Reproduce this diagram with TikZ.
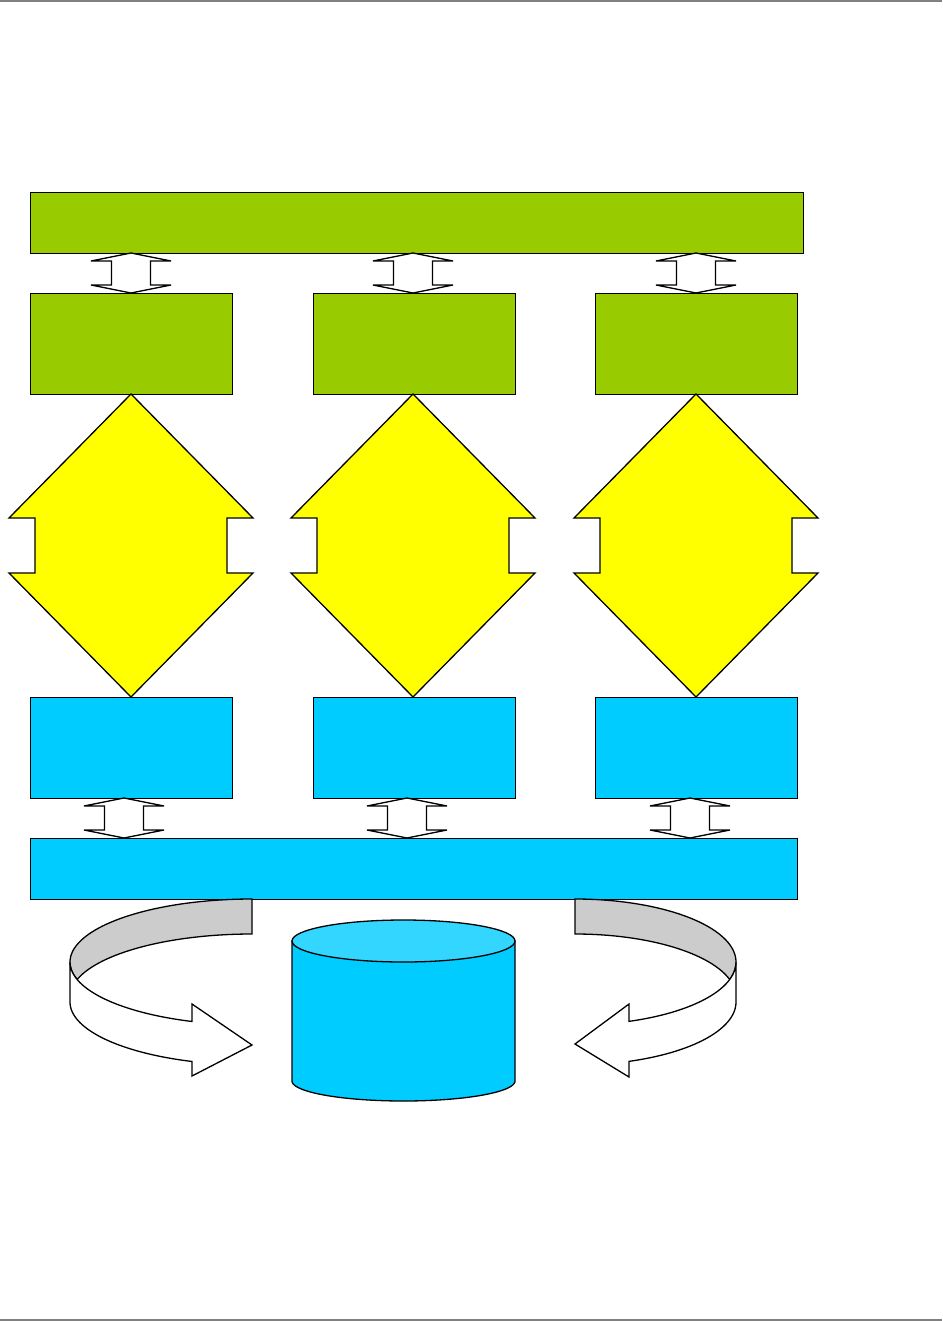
\documentclass[tikz,border=0pt]{standalone}
\definecolor{grn}{HTML}{99CC00}
\definecolor{ylw}{HTML}{FFFF00}
\definecolor{blu}{HTML}{00CCFF}
\definecolor{blutop}{HTML}{33D6FF}
\definecolor{bandgray}{HTML}{CCCCCC}
\definecolor{rulegray}{HTML}{808080}
\newcommand\smalldblarr[3]{%
  \filldraw[outl,fill=white] (#1,#2) -- (#1+40,#2+8) -- (#1+19.5,#2+8) -- (#1+19.5,#3-8) -- (#1+40,#3-8) -- (#1,#3)
   -- (#1-40,#3-8) -- (#1-19.5,#3-8) -- (#1-19.5,#2+8) -- (#1-40,#2+8) -- cycle;}
\newcommand\bigdblarr[1]{%
  \filldraw[outl,fill=ylw] (#1,394) -- (#1+122,518) -- (#1+96,518) -- (#1+96,573) -- (#1+122,573) -- (#1,697)
   -- (#1-122,573) -- (#1-96,573) -- (#1-96,518) -- (#1-122,518) -- cycle;}
\begin{document}
\begin{tikzpicture}[x=1pt,y=-1pt,
  outl/.style={draw=black,line width=1.3pt,line join=miter},
  boxbase/.style={outl,rectangle,anchor=north west,inner sep=0pt},
  gbox/.style={boxbase,fill=grn,minimum width=202pt,minimum height=101pt},
  bbox/.style={boxbase,fill=blu,minimum width=202pt,minimum height=101pt},
  gbar/.style={boxbase,fill=grn,minimum width=773pt,minimum height=61pt},
  bbar/.style={boxbase,fill=blu,minimum width=767pt,minimum height=61pt}]
\useasboundingbox (0,0) rectangle (942,1321);
\draw[rulegray,line width=2pt] (0,1) -- (942,1);
\draw[rulegray,line width=2pt] (0,1320) -- (942,1320);
% boxes
\node[gbar] (topbar) at (30,192) {};
\node[gbox] (g1) at (30,293) {};
\node[gbox] (g2) at (313,293) {};
\node[gbox] (g3) at (595,293) {};
\node[bbox] (b1) at (30,697) {};
\node[bbox] (b2) at (313,697) {};
\node[bbox] (b3) at (595,697) {};
\node[bbar] (botbar) at (30,838) {};
% small double arrows
\smalldblarr{131}{253}{293}
\smalldblarr{413}{253}{293}
\smalldblarr{696}{253}{293}
\smalldblarr{124}{798}{838}
\smalldblarr{407}{798}{838}
\smalldblarr{690}{798}{838}
% big yellow double arrows
\bigdblarr{131}
\bigdblarr{413}
\bigdblarr{696}
% cylinder
\filldraw[outl,fill=blu] (292,941) -- (292,1081)
  -- plot[domain=180:0,samples=60] ({403.5+111.5*cos(\x)},{1081+20*sin(\x)})
  -- (515,941) -- cycle;
\filldraw[outl,fill=blutop] (403.5,941) ellipse (111.5pt and 21pt);
% left circular arrow
\filldraw[outl,fill=bandgray] (252,899)
  -- plot[domain=270:164,samples=60] ({252+182*cos(\x)},{962+63*sin(\x)})
  -- plot[domain=196:270,samples=60] ({252+182*cos(\x)},{997+63*sin(\x)})
  -- cycle;
\filldraw[outl,fill=white] (70,962)
  -- plot[domain=180:109.25,samples=60] ({252+182*cos(\x)},{962+63*sin(\x)})
  -- (192,1004) -- (252,1045) -- (192,1076)
  -- plot[domain=109.25:180,samples=60] ({252+182*cos(\x)},{1002+63*sin(\x)})
  -- cycle;
% right circular arrow
\filldraw[outl,fill=bandgray] (575,899)
  -- plot[domain=270:376.1,samples=60] ({575+161*cos(\x)},{962+63*sin(\x)})
  -- plot[domain=343.9:270,samples=60] ({575+161*cos(\x)},{997+63*sin(\x)})
  -- cycle;
\filldraw[outl,fill=white] (736,962)
  -- plot[domain=0:70.4,samples=60] ({575+161*cos(\x)},{962+63*sin(\x)})
  -- (629,1004) -- (575,1044) -- (629,1077)
  -- plot[domain=70.4:0,samples=60] ({575+161*cos(\x)},{1002+63*sin(\x)})
  -- cycle;
\end{tikzpicture}
\end{document}
